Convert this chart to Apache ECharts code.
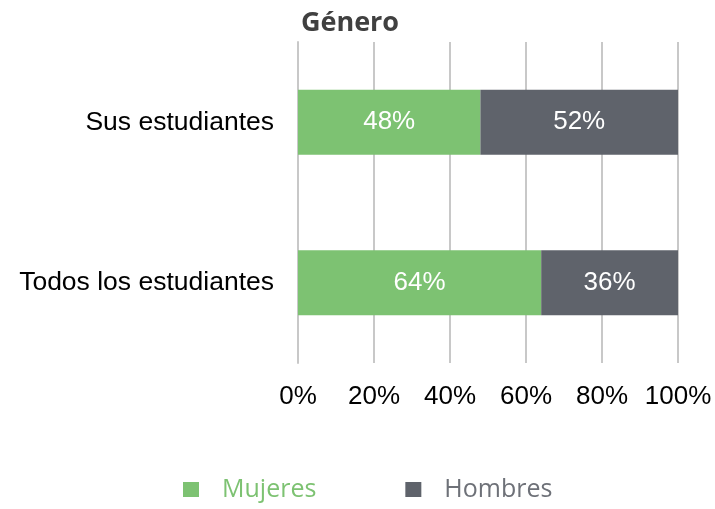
<!DOCTYPE html>
<html>
<head>
<meta charset="utf-8">
<script src="https://cdn.jsdelivr.net/npm/echarts@6/dist/echarts.min.js"></script>
<style>
  html, body { margin: 0; padding: 0; background: #fff; }
  #chart { width: 715px; height: 509px; }
</style>
</head>
<body>
<div id="chart"></div>
<script>
// 数据
var categories = ['Sus estudiantes', 'Todos los estudiantes'];
var mujeres = [48, 64];
var hombres = [52, 36];
var ticks = [0, 20, 40, 60, 80, 100];

(function () {
  var myChart = echarts.init(document.getElementById('chart'));
  var option = {
    color: ['#7DC272', '#5F636B'],
    title: {
      text: 'Género',
      left: 345,
      textAlign: 'center',
      top: 5,
      textStyle: {
        fontFamily: 'Open Sans',
        fontWeight: 'bold',
        fontSize: 27,
        color: '#404040'
      }
    },
    legend: {
      bottom: 2,
      left: 178,
      itemWidth: 16,
      itemHeight: 15,
      itemGap: 89,
      icon: 'rect',
      data: [
        { name: 'Mujeres', textStyle: { color: '#7DC272' } },
        { name: 'Hombres', textStyle: { color: '#6E7178' } }
      ],
      textStyle: {
        fontFamily: 'Open Sans',
        fontSize: 25,
        padding: [0, 0, 0, 18]
      }
    },
    grid: {
      left: 298,
      right: 37,
      top: 42,
      bottom: 146
    },
    xAxis: {
      type: 'value',
      min: 0,
      max: 100,
      interval: 20,
      axisLabel: {
        formatter: function (v) { return ticks.indexOf(v) > -1 ? v + '%' : ''; },
        color: '#000',
        fontFamily: 'Liberation Sans',
        fontSize: 26,
        margin: 21
      },
      axisLine: { show: false },
      axisTick: { show: false },
      splitLine: {
        lineStyle: { color: '#C8C8C8', width: 2 }
      }
    },
    yAxis: {
      type: 'category',
      inverse: true,
      data: categories,
      axisLabel: {
        color: '#000',
        fontFamily: 'Liberation Sans',
        fontSize: 26.5,
        margin: 24
      },
      axisLine: { show: true, lineStyle: { color: '#C8C8C8', width: 2 } },
      axisTick: { show: false }
    },
    series: [
      {
        name: 'Mujeres',
        type: 'bar',
        stack: 'total',
        barWidth: 65,
        data: mujeres,
        label: {
          show: true,
          position: 'inside',
          formatter: '{c}%',
          color: '#fff',
          fontFamily: 'Liberation Sans',
          fontSize: 26
        }
      },
      {
        name: 'Hombres',
        type: 'bar',
        stack: 'total',
        barWidth: 65,
        data: hombres,
        label: {
          show: true,
          position: 'inside',
          formatter: '{c}%',
          color: '#fff',
          fontFamily: 'Liberation Sans',
          fontSize: 26
        }
      }
    ]
  };
  myChart.setOption(option);
  window.addEventListener('resize', () => myChart.resize());
})();
</script>
</body>
</html>
